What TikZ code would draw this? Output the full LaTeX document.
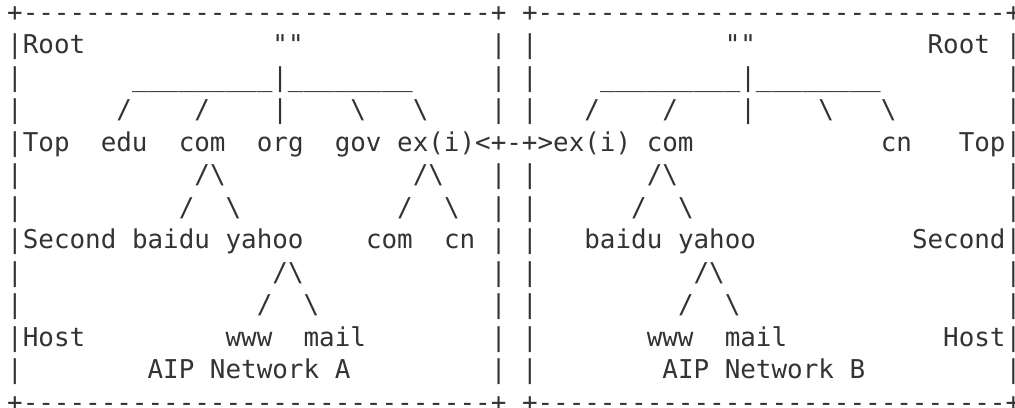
\documentclass[tikz,border=0pt]{standalone}
\usepackage{fontspec}
\setmonofont{DejaVu Sans Mono}

\definecolor{ink}{HTML}{333333}
\tikzset{
	ascii/.style={anchor=base west, inner sep=0pt, outer sep=0pt, text=ink,
		font=\ttfamily\fontsize{10pt}{12pt}\selectfont}
}
% one text cell: name, column, row, text
\newcommand{\chunk}[4]{\node[ascii] (#1) at ({2.78pt+#2*6.0205pt},{-8.3pt-#3*12.54pt}) {#4};}
\newcommand{\bsl}{\textbackslash}

\begin{document}
\begin{tikzpicture}
	\useasboundingbox (0,0) rectangle (391.72pt,-157.46pt);
	
	% frames
	\chunk{topA}{0}{0}{+------------------------------+}
	\chunk{topB}{33}{0}{+------------------------------+}
	\chunk{botA}{0}{12}{+------------------------------+}
	\chunk{botB}{33}{12}{+------------------------------+}
	\foreach \r in {1,2,3,5,6,7,8,9,10,11} {
		\foreach \c in {0,31,33,64} {\chunk{bar-\r-\c}{\c}{\r}{|}}
	}
	\chunk{bar-4-0}{0}{4}{|}
	\chunk{bar-4-64}{64}{4}{|}
	
	% root
	\chunk{rootA}{1}{1}{Root}
	\chunk{quoteA}{17}{1}{""}
	\chunk{quoteB}{46}{1}{""}
	\chunk{rootB}{59}{1}{Root}
	\chunk{barsA}{8}{2}{\_\_\_\_\_\_\_\_\_|\_\_\_\_\_\_\_\_}
	\chunk{barsB}{38}{2}{\_\_\_\_\_\_\_\_\_|\_\_\_\_\_\_\_\_}
	\chunk{la1}{7}{3}{/}
	\chunk{la2}{12}{3}{/}
	\chunk{la3}{17}{3}{|}
	\chunk{la4}{22}{3}{\bsl}
	\chunk{la5}{26}{3}{\bsl}
	\chunk{lb1}{37}{3}{/}
	\chunk{lb2}{42}{3}{/}
	\chunk{lb3}{47}{3}{|}
	\chunk{lb4}{52}{3}{\bsl}
	\chunk{lb5}{56}{3}{\bsl}
	
	% top level
	\chunk{topLA}{1}{4}{Top}
	\chunk{edu}{6}{4}{edu}
	\chunk{comA}{11}{4}{com}
	\chunk{org}{16}{4}{org}
	\chunk{gov}{21}{4}{gov}
	\chunk{exi}{25}{4}{ex(i)<+-+>ex(i)}
	\chunk{comB}{41}{4}{com}
	\chunk{cnB}{56}{4}{cn}
	\chunk{topLB}{61}{4}{Top}
	\chunk{ma1}{12}{5}{/\bsl}
	\chunk{ma2}{26}{5}{/\bsl}
	\chunk{mb1}{41}{5}{/\bsl}
	\chunk{na1}{11}{6}{/}
	\chunk{na2}{14}{6}{\bsl}
	\chunk{na3}{25}{6}{/}
	\chunk{na4}{28}{6}{\bsl}
	\chunk{nb1}{40}{6}{/}
	\chunk{nb2}{43}{6}{\bsl}
	
	% second level
	\chunk{secLA}{1}{7}{Second}
	\chunk{baiduA}{8}{7}{baidu}
	\chunk{yahooA}{14}{7}{yahoo}
	\chunk{comC}{23}{7}{com}
	\chunk{cnA}{28}{7}{cn}
	\chunk{baiduB}{37}{7}{baidu}
	\chunk{yahooB}{43}{7}{yahoo}
	\chunk{secLB}{58}{7}{Second}
	\chunk{pa1}{17}{8}{/\bsl}
	\chunk{pb1}{44}{8}{/\bsl}
	\chunk{qa1}{16}{9}{/}
	\chunk{qa2}{19}{9}{\bsl}
	\chunk{qb1}{43}{9}{/}
	\chunk{qb2}{46}{9}{\bsl}
	
	% hosts
	\chunk{hostLA}{1}{10}{Host}
	\chunk{wwwA}{14}{10}{www}
	\chunk{mailA}{19}{10}{mail}
	\chunk{wwwB}{41}{10}{www}
	\chunk{mailB}{46}{10}{mail}
	\chunk{hostLB}{60}{10}{Host}
	\chunk{netA}{9}{11}{AIP Network A}
	\chunk{netB}{42}{11}{AIP Network B}
	
\end{tikzpicture}
\end{document}
